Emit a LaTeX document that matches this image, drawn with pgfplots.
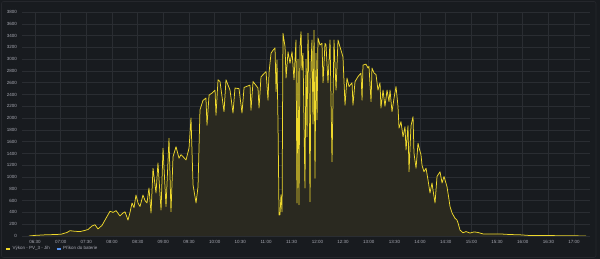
\documentclass[border=0pt]{standalone}
\usepackage{pgfplots}
\usepackage{pgfplotstable}
\pgfplotsset{compat=1.18}
\usepackage{fontspec}
\setmainfont{Liberation Sans}
\definecolor{bg}{HTML}{181B1F}
\definecolor{panelborder}{HTML}{25272C}
\definecolor{gridc}{HTML}{2A2D32}
\definecolor{txt}{HTML}{A8A9B3}
\definecolor{pvyellow}{HTML}{EED82C}
\definecolor{pvfill}{HTML}{2A2920}
\definecolor{batblue}{HTML}{5794F2}
\pgfplotstableread{
m w
383.0 0
390.0 10
401.7 20
413.4 25
420.4 30
427.4 60
430.9 90
436.7 80
442.6 75
448.4 95
451.9 110
456.6 170
460.1 190
463.6 120
468.3 180
471.8 270
475.3 360
477.7 420
481.2 400
484.7 430
489.3 340
492.8 390
495.2 410
498.7 270
501.0 400
503.4 560
505.7 480
508.0 695
510.4 560
512.7 500
516.2 695
518.6 600
520.9 560
523.2 815
525.6 390
527.9 1150
531.4 730
533.7 1240
537.3 440
539.6 1490
543.1 500
546.6 1660
548.9 410
551.3 1345
554.8 1515
558.3 1320
560.6 1380
563.0 1345
566.5 1290
570.0 1490
572.3 2000
574.7 865
578.2 560
580.5 835
582.8 2140
586.3 2300
589.8 2340
591.0 1880
593.4 2390
596.9 2425
600.4 2475
601.5 2050
603.9 2650
606.2 2620
610.9 2110
613.2 2650
617.9 2475
621.4 2085
623.7 2510
628.4 2500
631.9 2085
634.3 2520
641.3 2560
642.4 2135
644.8 2620
650.6 2510
651.8 2170
654.1 2700
660.0 2790
662.3 2305
663.5 2770
665.8 3100
668.1 3150
670.5 3190
671.7 2450
672.8 2985
674.0 1900
675.2 355
676.3 360
677.5 700
678.7 410
679.8 3440
682.2 3210
683.4 2680
685.7 3125
688.0 2930
690.4 3125
692.7 2650
695.0 3325
696.2 560
697.4 3000
698.5 530
699.7 3210
700.9 3465
702.0 2815
703.2 3100
705.5 815
706.7 3000
707.9 1685
709.0 3440
710.2 2680
711.4 580
712.5 2900
713.7 3325
714.9 1900
716.1 3490
717.2 980
718.4 3100
719.6 1970
720.7 3360
723.1 3240
725.4 3270
726.6 2600
728.9 3270
730.1 3240
732.4 2600
734.8 3325
737.1 1260
739.4 3325
741.8 2475
744.1 3325
746.4 3210
749.9 3040
752.3 2220
754.6 2680
757.0 2535
760.5 2600
761.6 2220
764.0 2620
767.5 2705
771.0 2765
772.2 2305
773.3 2900
776.8 2915
779.2 2850
780.3 2880
782.7 2280
783.8 2850
786.2 2765
788.5 2740
790.8 2475
793.2 2600
794.3 2170
796.7 2475
799.0 2200
801.4 2475
803.7 2280
804.9 2475
807.2 2110
809.6 2340
811.9 2535
814.2 2200
815.4 1830
817.7 1940
820.1 1685
822.4 1855
823.6 1460
825.9 1870
827.1 1090
829.4 1870
831.8 2025
832.9 1405
835.3 1150
837.6 1575
838.8 1500
841.1 1375
842.3 1200
844.6 1090
847.0 1150
849.3 950
851.6 730
854.0 900
855.1 780
857.5 560
859.8 1010
863.3 1090
865.7 900
868.0 1010
871.5 835
873.9 610
875.0 500
877.4 390
880.9 300
883.2 270
884.4 220
886.7 100
890.2 55
893.7 75
898.4 50
903.1 70
907.7 60
913.6 35
921.8 35
933.5 35
945.1 25
956.8 20
968.5 8
980.2 10
1003.6 5
1021.1 3
1034.0 0
}\pvdata
\begin{document}
\begin{tikzpicture}
\fill[bg] (0,0) rectangle (600bp,259bp);
\draw[panelborder, line width=0.6bp, rounded corners=2bp] (1.5bp,1.5bp) rectangle (596bp,257.5bp);
\begin{axis}[
  at={(22bp,23bp)}, anchor=south west,
  scale only axis, width=568bp, height=224bp,
  xmin=374.8, xmax=1038.6, ymin=0, ymax=3800,
  axis line style={draw=none},
  tick style={draw=none},
  grid=major,
  major grid style={color=gridc, line width=0.5bp},
  xtick={390,420,...,1020},
  xticklabels={06:30,07:00,07:30,08:00,08:30,09:00,09:30,10:00,10:30,11:00,11:30,12:00,12:30,13:00,13:30,14:00,14:30,15:00,15:30,16:00,16:30,17:00},
  ytick={0,200,...,3800},
  /pgf/number format/assume math mode=true,
  /pgf/number format/1000 sep={},
  ticklabel style={font=\fontsize{4.5bp}{5bp}\selectfont, text=txt, inner sep=0pt},
  xticklabel style={anchor=north, yshift=-4bp},
  yticklabel style={anchor=east, xshift=-5bp},
  legend style={at={(-0.030,-0.058)}, anchor=west, draw=none, fill=none,
    font=\fontsize{4.5bp}{5bp}\selectfont, text=txt, inner sep=0pt,
    /tikz/every even column/.append style={column sep=4bp}},
  legend columns=2,
  legend image code/.code={\draw[#1, line width=1.4bp] (0bp,0bp) -- (4bp,0bp);},
]
\addplot[draw=none, fill=pvfill, forget plot] table[x=m, y=w] {\pvdata} \closedcycle;
\addplot[pvyellow, line width=0.75bp, line join=round, forget plot] table[x=m, y=w] {\pvdata};
\addlegendimage{pvyellow}
\addlegendentry{Výkon - PV\_3 - Jih}
\addlegendimage{batblue}
\addlegendentry{Příkon do baterie}
\end{axis}
\end{tikzpicture}
\end{document}
